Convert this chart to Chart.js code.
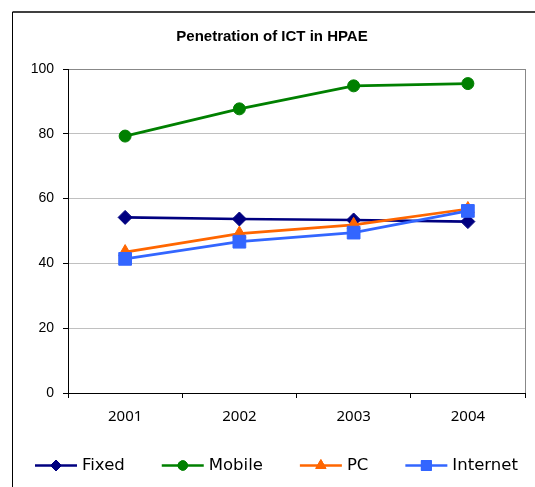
<!DOCTYPE html>
<html>
<head>
<meta charset="utf-8">
<script src="https://cdn.jsdelivr.net/npm/chart.js@4.4.1/dist/chart.umd.min.js"></script>
<style>
  html, body { margin: 0; padding: 0; background: #fff; }
  #wrap { width: 535px; height: 487px; position: relative; }
</style>
</head>
<body>
<div id="wrap"><canvas id="chart" width="535" height="487"></canvas></div>
<script>
const years = ['2001', '2002', '2003', '2004'];
const fixed = [54.2, 53.7, 53.4, 52.9];
const mobile = [79.3, 87.7, 94.8, 95.5];
const pc = [43.5, 49.2, 51.9, 56.8];
const internet = [41.4, 46.7, 49.5, 56.2];
const yTicks = [0, 20, 40, 60, 80, 100];

const series = [
    { label: 'Fixed', data: fixed, color: '#000080', style: 'rectRot', r: 7 },
    { label: 'Mobile', data: mobile, color: '#008000', style: 'circle', r: 6 },
    { label: 'PC', data: pc, color: '#FF6600', style: 'triangle', r: 7.5 },
    { label: 'Internet', data: internet, color: '#3366FF', style: 'rect', r: 9 },
];

// frame round the whole chart, right border of the plot and the legend under it
const extras = {
    id: 'extras',
    beforeDraw(chart) {
        const ctx = chart.ctx;
        ctx.save();
        ctx.strokeStyle = '#000';
        ctx.lineWidth = 1;
        ctx.beginPath();
        ctx.moveTo(12.5, 600);
        ctx.lineTo(12.5, 12);
        ctx.stroke();
        ctx.lineWidth = 1.5;
        ctx.beginPath();
        ctx.moveTo(12.5, 12);
        ctx.lineTo(600, 12);
        ctx.stroke();
        ctx.restore();
    },
    afterDraw(chart) {
        const ctx = chart.ctx;
        const a = chart.chartArea;
        ctx.save();
        ctx.strokeStyle = '#888';
        ctx.lineWidth = 1;
        ctx.beginPath();
        ctx.moveTo(Math.round(a.right) + 0.5, a.top);
        ctx.lineTo(Math.round(a.right) + 0.5, a.bottom);
        ctx.stroke();

        ctx.font = '16.5px "DejaVu Sans"';
        ctx.textBaseline = 'middle';
        let x = 35;
        const y = 465.5;
        series.forEach(s => {
            ctx.strokeStyle = s.color;
            ctx.lineWidth = 2.5;
            ctx.beginPath();
            ctx.moveTo(x, y);
            ctx.lineTo(x + 42, y);
            ctx.stroke();
            ctx.fillStyle = s.color;
            ctx.lineWidth = 1;
            Chart.helpers.drawPoint(ctx, { pointStyle: s.style, radius: s.r * 0.78, rotation: 0, borderWidth: 1 }, x + 21, y);
            ctx.fill();
            ctx.stroke();
            ctx.fillStyle = '#000';
            ctx.fillText(s.label, x + 47, y);
            x += 47 + ctx.measureText(s.label).width + 37;
        });
        ctx.restore();
    }
};

new Chart(document.getElementById('chart'), {
    type: 'line',
    data: {
        labels: years,
        datasets: series.map((s, i) => ({
            label: s.label,
            data: s.data,
            borderColor: s.color,
            backgroundColor: s.color,
            borderWidth: 2.7,
            pointStyle: s.style,
            pointRadius: s.r,
            pointBorderWidth: 1,
            pointBorderColor: s.color,
            pointBackgroundColor: s.color,
            tension: 0,
            order: series.length - i,
        })),
    },
    options: {
        responsive: false,
        animation: false,
        events: [],
        layout: { padding: { left: 18, right: 9, top: 0, bottom: 0 } },
        plugins: {
            legend: { display: false },
            tooltip: { enabled: false },
            title: {
                display: true,
                text: 'Penetration of ICT in HPAE',
                color: '#000',
                font: { family: '"Liberation Sans", Arial, sans-serif', size: 15, weight: 'bold' },
                padding: { top: 28, bottom: 23 },
            },
        },
        scales: {
            x: {
                offset: true,
                grid: { offset: true, drawOnChartArea: false, drawTicks: true, tickLength: 5, tickColor: '#000' },
                border: { color: '#000', width: 1 },
                ticks: { color: '#000', padding: 10, font: { family: '"Noto Sans"', size: 15 } },
                afterFit(scale) { scale.height = 94; },
            },
            y: {
                min: 0,
                max: 100,
                afterBuildTicks(scale) { scale.ticks = yTicks.map(v => ({ value: v })); },
                grid: {
                    color: ctx => (ctx.tick && ctx.tick.value === 100 ? '#888' : '#c0c0c0'),
                    tickColor: '#000',
                    tickLength: 5,
                },
                border: { color: '#000', width: 1 },
                ticks: { color: '#000', padding: 9, font: { family: '"Liberation Sans", Arial, sans-serif', size: 14 } },
                afterFit(scale) { scale.width = 50; },
            },
        },
    },
    plugins: [extras],
});
</script>
</body>
</html>
